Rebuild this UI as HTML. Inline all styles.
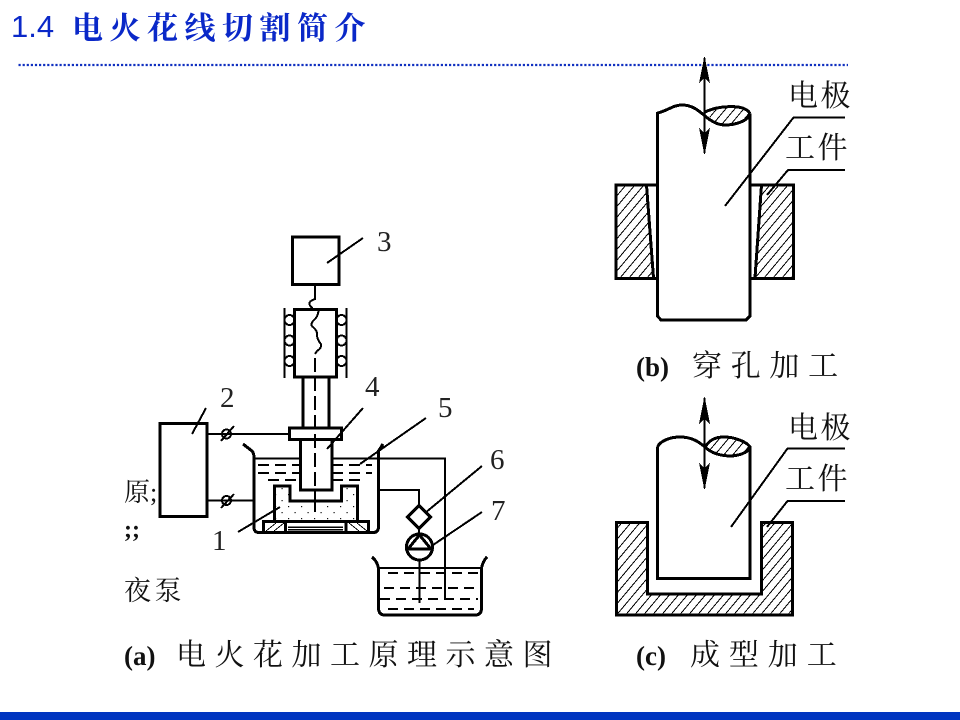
<!DOCTYPE html>
<html><head><meta charset="utf-8"><style>
html,body{margin:0;padding:0;background:#fff}
svg{display:block}
text{font-family:"Liberation Serif","Noto Serif CJK SC",serif;fill:#111}
.cn{font-size:30px;font-weight:400}
.n{font-size:29px;fill:#222}
</style></head><body>
<svg width="960" height="720" viewBox="0 0 960 720" xmlns="http://www.w3.org/2000/svg">
<defs>
<pattern id="d" width="13" height="12" patternUnits="userSpaceOnUse"><rect x="2" y="2" width="1.2" height="1.2" fill="#111"/><rect x="8.5" y="8" width="1.2" height="1.2" fill="#111"/></pattern>
<clipPath id="hc">
<path d="M617 186H646.5L653.5 278H617Z"/>
<path d="M761.5 186H792.5V278H755Z"/>
<path d="M705 112Q726 106 742 108Q750 111 750 114Q745 122 726 125Q714 124 705 112Z"/>
<path d="M616.5 522.5H647.5V594H761.5V522.5H792.5V615H616.5Z"/>
<path d="M705 447C713 455 725 456 732 456C742 455 750 451 750 447C747 442 735 437 724 437C714 437 709 441 705 447Z"/>
</clipPath>
</defs>
<rect width="960" height="720" fill="#fff"/>
<!-- header -->
<text x="11" y="37" style="font-family:'Liberation Sans',sans-serif;font-size:31px;fill:#0a28c8">1.4</text>
<text x="72" y="39" style="font-family:'Noto Serif CJK SC',serif;font-weight:700;font-size:31px;letter-spacing:6.5px;fill:#0a28c8">电火花线切割简介</text>
<line x1="18.5" y1="65" x2="848" y2="65" stroke="#1030c0" stroke-width="2.2" stroke-dasharray="2.2 1.9"/>
<rect y="712" width="960" height="8" fill="#0035c0"/>

<g fill="none" stroke="#000" stroke-width="3" shape-rendering="crispEdges">
<!-- (a) head -->
<rect x="292.5" y="237" width="46.5" height="47.5"/>
<path d="M327 263L363 238" stroke-width="2"/>
<circle cx="289.5" cy="320" r="5" stroke-width="2"/><circle cx="289.5" cy="340.5" r="5" stroke-width="2"/><circle cx="289.5" cy="361" r="5" stroke-width="2"/>
<circle cx="341.5" cy="320" r="5" stroke-width="2"/><circle cx="341.5" cy="340.5" r="5" stroke-width="2"/><circle cx="341.5" cy="361" r="5" stroke-width="2"/>
<rect x="294.5" y="309.5" width="42" height="67.5" fill="#fff"/>
<path d="M315 284V299Q309 301 309.5 304Q310 307 313 308" stroke-width="2"/>
<path d="M318.5 311Q318 317 313 321Q310 325 313 327Q318 331 317 336Q318 341 321 344Q322 348 317 351L315 354" stroke-width="2"/>
<path d="M284.5 308V378M346.5 308V378" stroke-width="2"/>
<path d="M303 377V428M329 377V428"/>
<rect x="289.5" y="428" width="52" height="11.5"/>
<!-- box 2 -->
<rect x="160" y="423.5" width="47" height="93"/>
<path d="M192 434L206 408" stroke-width="2"/>
<path d="M207 434H289M207 500.5H253.5" stroke-width="2"/>
<circle cx="226.5" cy="434" r="4.5" stroke-width="2"/><path d="M221 441L234 426" stroke-width="2"/>
<circle cx="226.5" cy="500.5" r="4.5" stroke-width="2"/><path d="M221 508L234 494" stroke-width="2"/>
<!-- tank -->
<path d="M243 444L252 451Q254 453 254 458V527Q254 532.5 259 532.5H373Q378.5 532.5 378.5 527V451L383 444"/>
<path d="M254 458.5H300M332 458.5H445V600" stroke-width="2"/>
<path d="M258 465H300M332 465H372M258 473H300M332 473H372M268 480H300M332 480H362" stroke-width="2" stroke-dasharray="11 6"/>
<!-- workpiece -->
<path d="M274.5 521.5V486H290V501H341.5V486H357.5V521.5Z" fill="url(#d)"/>
<rect x="263.5" y="521.5" width="105" height="11" fill="#fff"/>
<path d="M285.5 522V532M346 522V532" stroke-width="3"/>
<path d="M266 531L276 523M274 531L284 523M349 523L359 531M357 523L367 531" stroke-width="1"/>
<path d="M288 527H343M288 529.5H343" stroke-width="1.5"/>
<rect x="300.5" y="439.5" width="31.5" height="50.5" fill="#fff"/>
<path d="M238 532L280 507" stroke-width="2"/>
<path d="M327 449L363 408" stroke-width="2"/>
<path d="M360 464L426 418" stroke-width="2"/>
<path d="M315 358V490" stroke-width="2" stroke-dasharray="14 5"/>
<path d="M315 490V512" stroke-width="2"/>
<!-- pump -->
<path d="M378.5 490H419V506" stroke-width="2"/>
<path d="M419 505.5L430.5 517L419 528.5L407.5 517Z" fill="#fff"/>
<path d="M419 528V534" stroke-width="2"/>
<circle cx="419.5" cy="547" r="13"/>
<path d="M419.5 535L408 549H431Z"/>
<path d="M419.5 560V603" stroke-width="2"/>
<path d="M425 513L482 466M433 545L482 512" stroke-width="2"/>
<!-- beaker -->
<path d="M372 557Q377 561 378.5 568V608Q378.5 615 385 615H475Q481.5 615 481.5 608V568Q483 561 487 557"/>
<path d="M378.5 568H481.5" stroke-width="2"/>
<path d="M388 573H478M384 588H478M380 599H478M388 609H474" stroke-width="2" stroke-dasharray="10 6"/>

<!-- (b) -->
<rect x="616" y="185" width="177.5" height="93.5"/>
<path d="M646.5 185L653.5 278M761.5 185L755 278"/>
<path d="M657.5 112V316L661 320H746L750 316V114" fill="#fff"/>
<!-- hatching -->
<g clip-path="url(#hc)"><path d="M400 110L1013 624" stroke-width="800" stroke-dasharray="1 5.9"/></g>
<path d="M657.5 113C667 111 673 105 682 105C692 105 698 110 705 116C712 122 718 125 725 125C735 125 748 121 750 114"/>
<path d="M705 112C715 107 728 106 738 107C745 108 749 111 750 114"/>
<path d="M704.5 58V153" stroke-width="2"/>
<path d="M704.5 56L699 83L704.5 78L710 83ZM704.5 155L699 128L704.5 133L710 128Z" fill="#000" stroke="none"/>
<path d="M725 206L793.5 117.5H845M767 195L788 170H845" stroke-width="2"/>

<!-- (c) -->
<path d="M616.5 522.5H647.5V594H761.5V522.5H792.5V615H616.5Z"/>
<path d="M657.5 447V578.5H750V447"/>
<path d="M705 447C713 455 725 456 732 456C742 455 750 451 750 447C747 442 735 437 724 437C714 437 709 441 705 447Z"/>
<path d="M657.5 447C660 441 670 437 680 437C692 437 699 442 705 447"/>
<path d="M704.5 398V488" stroke-width="2"/>
<path d="M704.5 396L699 424L704.5 419L710 424ZM704.5 490L699 463L704.5 468L710 463Z" fill="#000" stroke="none"/>
<path d="M731 527L787.5 448.5H845M767 527L787.5 501H845" stroke-width="2"/>
</g>

<!-- numbers -->
<text class="n" x="377" y="251">3</text>
<text class="n" x="220" y="407">2</text>
<text class="n" x="365" y="396">4</text>
<text class="n" x="438" y="417">5</text>
<text class="n" x="490" y="469">6</text>
<text class="n" x="491" y="520">7</text>
<text class="n" x="212" y="550">1</text>

<!-- clipped labels -->
<text x="124" y="501" style="font-size:26px">原;</text>
<text x="124" y="537" style="font-size:24px;font-weight:bold">;;</text>
<text x="124" y="600" style="font-size:27px;letter-spacing:3.5px">夜泵</text>

<!-- right labels -->
<text class="cn" x="788" y="106" style="letter-spacing:2.5px">电极</text>
<text class="cn" x="785" y="158" style="letter-spacing:2.5px">工件</text>
<text class="cn" x="788" y="438" style="letter-spacing:2.5px">电极</text>
<text class="cn" x="785" y="489" style="letter-spacing:2.5px">工件</text>

<!-- captions -->
<text x="124" y="665" style="font-size:27px;font-weight:bold">(a)</text>
<text class="cn" x="176" y="665" style="letter-spacing:8.5px">电火花加工原理示意图</text>
<text x="636" y="376" style="font-size:27px;font-weight:bold">(b)</text>
<text class="cn" x="692" y="376" style="letter-spacing:8.7px">穿孔加工</text>
<text x="636" y="665" style="font-size:27px;font-weight:bold">(c)</text>
<text class="cn" x="690" y="665" style="letter-spacing:8.9px">成型加工</text>
</svg>
</body></html>
